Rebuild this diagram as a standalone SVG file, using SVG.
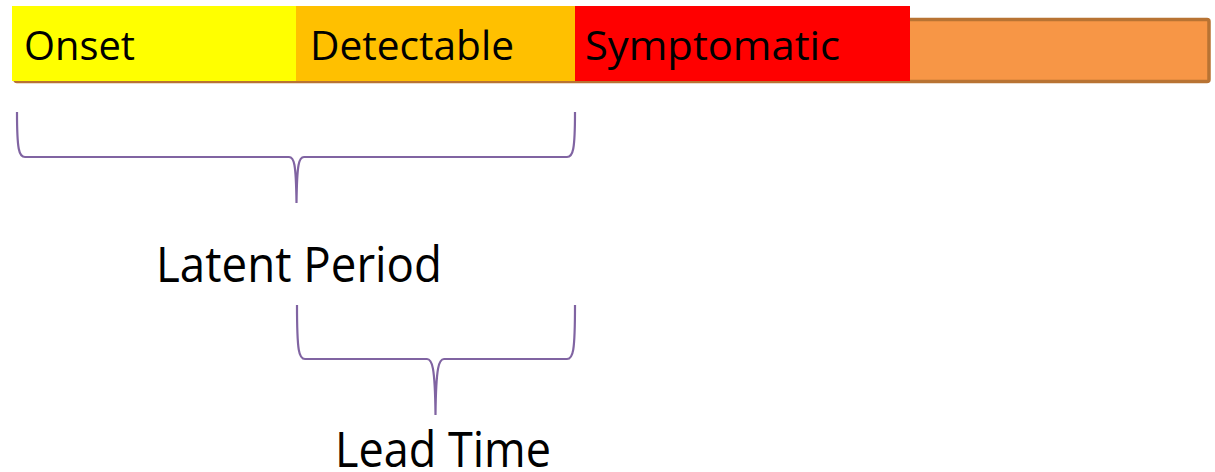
<svg xmlns="http://www.w3.org/2000/svg" width="1215" height="472" viewBox="0 0 1215 472">
<style>
.lbl{font-family:"Open Sans","Noto Sans","Liberation Sans",sans-serif;fill:#000}
.top{font-size:41px}
.big{font-size:49px}
.brace{fill:none;stroke:#8064A2;stroke-width:2.2}
</style>
<rect width="1215" height="472" fill="#fff"/>
<g id="bar">
<rect x="15" y="19.5" width="1194" height="62" rx="2" fill="#F79646" stroke="#B87333" stroke-width="3.5"/>
</g>
<g id="onset">
<rect x="12" y="6" width="284" height="75" fill="#FFFF00"/>
<text class="lbl top" x="24" y="60" textLength="111" lengthAdjust="spacingAndGlyphs">Onset</text>
</g>
<g id="detectable">
<rect x="296" y="6" width="279" height="75" fill="#FFC000"/>
<text class="lbl top" x="310" y="60" textLength="204" lengthAdjust="spacingAndGlyphs">Detectable</text>
</g>
<g id="symptomatic">
<rect x="575" y="6" width="335" height="75" fill="#FF0000"/>
<text class="lbl top" x="585" y="60" textLength="255" lengthAdjust="spacingAndGlyphs">Symptomatic</text>
</g>
<g id="connectors">
<path class="brace" d="M17,112 C17,150 19,157 25,157 L289,157 C294,157 296,163 296.5,203 C297,163 299,157 304,157 L567,157 C573,157 575,150 575,112"/>
<path class="brace" d="M297,305 C297,352 299,359 305,359 L427,359 C432,359 435,366 435.5,415 C436,366 439,359 444,359 L567,359 C573,359 575,352 575,305"/>
</g>
<g id="latent">
<text class="lbl big" x="156" y="282" textLength="286" lengthAdjust="spacingAndGlyphs">Latent Period</text>
</g>
<g id="lead">
<text class="lbl big" x="335" y="467" textLength="216" lengthAdjust="spacingAndGlyphs">Lead Time</text>
</g>
</svg>
